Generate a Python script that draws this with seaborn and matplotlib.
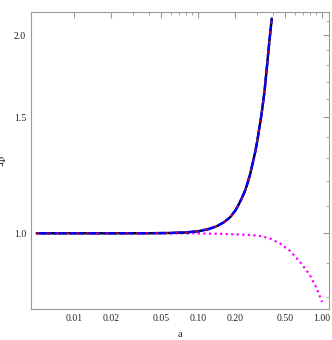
import matplotlib
matplotlib.use("Agg")
import matplotlib.pyplot as plt
import matplotlib.ticker as mticker
import pandas as pd
import seaborn as sns

# growing branch (black solid / blue dashed / red dashed all lie on top of each other)
a_up = [0.005, 0.01, 0.02, 0.04, 0.06, 0.08, 0.1, 0.12, 0.14, 0.16, 0.181, 0.2,
        0.211, 0.225, 0.239, 0.25, 0.263, 0.275, 0.288, 0.3, 0.31, 0.322, 0.33,
        0.343, 0.358, 0.376, 0.393]
phi_up = [1.0, 1.0, 1.0, 1.0002, 1.001, 1.003, 1.007, 1.014, 1.024, 1.038, 1.057, 1.083,
          1.103, 1.13, 1.16, 1.19, 1.23, 1.275, 1.325, 1.38, 1.435, 1.50, 1.55,
          1.64, 1.78, 1.96, 2.12]
# decaying branch (magenta dotted)
a_down = [0.005, 0.01, 0.02, 0.05, 0.1, 0.15, 0.218, 0.263, 0.316, 0.381, 0.459,
          0.552, 0.665, 0.8, 0.906, 1.0]
phi_down = [1.0, 1.0, 1.0, 1.0, 0.9995, 0.998, 0.9955, 0.994, 0.9906, 0.9816, 0.9646,
            0.940, 0.9044, 0.863, 0.824, 0.786]

x_major = [0.01, 0.02, 0.05, 0.1, 0.2, 0.5, 1.0]
x_labels = ["0.01", "0.02", "0.05", "0.10", "0.20", "0.50", "1.00"]
x_minor = [0.03, 0.04, 0.06, 0.07, 0.08, 0.09, 0.3, 0.4, 0.6, 0.7, 0.8, 0.9]
y_major = [1.0, 1.5, 2.0]
y_labels = ["1.0", "1.5", "2.0"]
y_minor = [0.8, 0.9, 1.1, 1.2, 1.3, 1.4, 1.6, 1.7, 1.8, 1.9, 2.1]

up = pd.DataFrame({"a": a_up, "phi": phi_up})
down = pd.DataFrame({"a": a_down, "phi": phi_down})

sns.set_style("white")
plt.rcParams["font.family"] = ["Liberation Serif", "DejaVu Serif"]

fig = plt.figure(figsize=(3.32, 3.40), dpi=100)
ax = fig.add_axes([0.0934, 0.091, 0.898, 0.874])

sns.lineplot(data=down, x="a", y="phi", ax=ax, color="magenta", lw=1.6,
             linestyle=(0, (1, 1.5)))
sns.lineplot(data=up, x="a", y="phi", ax=ax, color="black", lw=1.7)
sns.lineplot(data=up, x="a", y="phi", ax=ax, color="blue", lw=1.7,
             linestyle=(0, (6, 1)))
sns.lineplot(data=up, x="a", y="phi", ax=ax, color="red", lw=1.1,
             linestyle=(0, (1.5, 5)))

ax.set_xscale("log")
ax.set_yscale("log")
ax.set_xlim(0.0045, 1.14)
ax.set_ylim(0.767, 2.17)

ax.xaxis.set_major_locator(mticker.FixedLocator(x_major))
ax.xaxis.set_major_formatter(mticker.FixedFormatter(x_labels))
ax.xaxis.set_minor_locator(mticker.FixedLocator(x_minor))
ax.xaxis.set_minor_formatter(mticker.NullFormatter())
ax.yaxis.set_major_locator(mticker.FixedLocator(y_major))
ax.yaxis.set_major_formatter(mticker.FixedFormatter(y_labels))
ax.yaxis.set_minor_locator(mticker.FixedLocator(y_minor))
ax.yaxis.set_minor_formatter(mticker.NullFormatter())

ax.tick_params(which="both", direction="in", top=True, right=True, color="#999999",
               labelsize=7, labelcolor="#222222", pad=3.5)
ax.tick_params(which="major", length=4, width=0.8)
ax.tick_params(which="minor", length=2, width=0.6)
for s in ax.spines.values():
    s.set_color("#999999")
    s.set_linewidth(0.8)

ax.set_xlabel("a", fontsize=7.5, labelpad=5)
ax.set_ylabel("-Φ", fontsize=7.5)
ax.yaxis.set_label_coords(-0.078, 0.5)

fig.savefig("out.png", dpi=100)
